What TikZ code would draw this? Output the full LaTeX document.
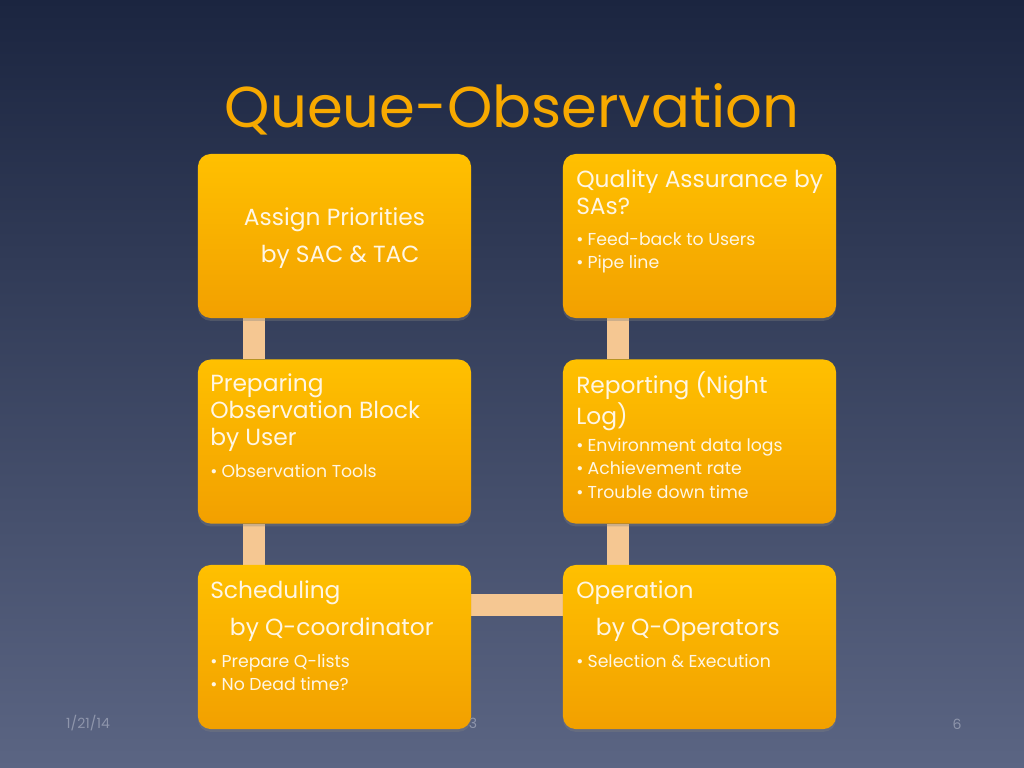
\documentclass[tikz,border=0pt]{standalone}
\usepackage{fontspec}
\setmainfont{Poppins}
\usetikzlibrary{positioning, shadows, calc}

\definecolor{bgtop}{HTML}{1B2540}
\definecolor{bgbot}{HTML}{5B6583}
\definecolor{boxtop}{HTML}{FFC000}
\definecolor{boxbot}{HTML}{F2A000}
\definecolor{linkc}{HTML}{F5C792}
\definecolor{titlec}{HTML}{F7A900}
\definecolor{boxtext}{HTML}{FFF6E4}
\definecolor{footc}{HTML}{8E95AB}

\pgfdeclarelayer{back}
\pgfdeclarelayer{mid}
\pgfsetlayers{back,mid,main}

\begin{document}
\begin{tikzpicture}[
    x=0.025cm, y=-0.025cm,
    stage/.style={rectangle, rounded corners=9pt, minimum width=6.825cm, minimum height=4.1cm,
        top color=boxtop, bottom color=boxbot, draw=none, inner sep=0pt,
        drop shadow={opacity=0.35, shadow xshift=0pt, shadow yshift=-2pt}},
    link/.style={line width=0.55cm, draw=linkc},
    head/.style={text=boxtext, align=left, inner sep=0pt, anchor=north west,
        font=\fontsize{16.6}{19.2}\selectfont},
    items/.style={text=boxtext, align=left, inner sep=0pt, anchor=north west,
        font=\fontsize{12.3}{17}\selectfont},
    foot/.style={text=footc, inner sep=0pt, font=\fontsize{10}{12}\selectfont}
]

% Background
\begin{pgfonlayer}{back}
\shade[top color=bgtop, bottom color=bgbot] (0,0) rectangle (1024,768);
\end{pgfonlayer}
\useasboundingbox (0,0) rectangle (1024,768);

% Title
\node[text=titlec, font=\fontsize{41}{48}\selectfont, inner sep=0pt] (title) at (512,109) {Queue-Observation};

% Footer
\begin{pgfonlayer}{mid}
\node[foot] (date) at (88,723) {1/21/14};
\node[foot] (page) at (957,724) {6};
\node[foot] (hidden) at (473,723) {3};
\end{pgfonlayer}

% Stages
\node[stage] (assign) at (334.5,236) {};
\node[stage] (quality) at (699.5,236) {};
\node[stage] (prepare) at (334.5,441.5) {};
\node[stage] (report) at (699.5,441.5) {};
\node[stage] (schedule) at (334.5,647) {};
\node[stage] (operate) at (699.5,647) {};

% Links
\begin{pgfonlayer}{mid}
\draw[link] ([xshift=1.4cm]assign.south west) -- ([xshift=1.4cm]prepare.north west);
\draw[link] ([xshift=1.4cm]prepare.south west) -- ([xshift=1.4cm]schedule.north west);
\draw[link] ([xshift=1.39cm]quality.south west) -- ([xshift=1.39cm]report.north west);
\draw[link] ([xshift=1.39cm]report.south west) -- ([xshift=1.39cm]operate.north west);
\draw[link] ([yshift=-1cm]schedule.north east) -- ([yshift=-1cm]operate.north west);
\end{pgfonlayer}

% Texts
\node[head, anchor=center, align=center] (assigntext) at (334.5,238)
    {Assign Priorities\\[7pt]\hspace*{8pt}by SAC \& TAC};

\node[head] (qualityhead) at (576,168) {\strut Quality Assurance by\\SAs?};
\node[items] (qualitylist) at (576,228)
    {\strut\textbullet\hspace{3pt}Feed-back to Users\\\textbullet\hspace{3pt}Pipe line};

\node[head] (preparehead) at (210,372) {\strut Preparing\\Observation Block\\by User};
\node[items] (preparelist) at (210,460)
    {\strut\textbullet\hspace{3pt}Observation Tools};

\node[head] (reporthead) at (576,371) {\strut Reporting (Night\\Log)};
\node[items] (reportlist) at (576,434)
    {\strut\textbullet\hspace{3pt}Environment data logs\\\textbullet\hspace{3pt}Achievement rate\\\textbullet\hspace{3pt}Trouble down time};

\node[head] (schedulehead) at (210,579) {\strut Scheduling\\[7pt]\hspace*{14pt}by Q-coordinator};
\node[items] (schedulelist) at (210,650)
    {\strut\textbullet\hspace{3pt}Prepare Q-lists\\\textbullet\hspace{3pt}No Dead time?};

\node[head] (operatehead) at (576,579) {\strut Operation\\[7pt]\hspace*{14pt}by Q-Operators};
\node[items] (operatelist) at (576,650)
    {\strut\textbullet\hspace{3pt}Selection \& Execution};

\end{tikzpicture}
\end{document}
